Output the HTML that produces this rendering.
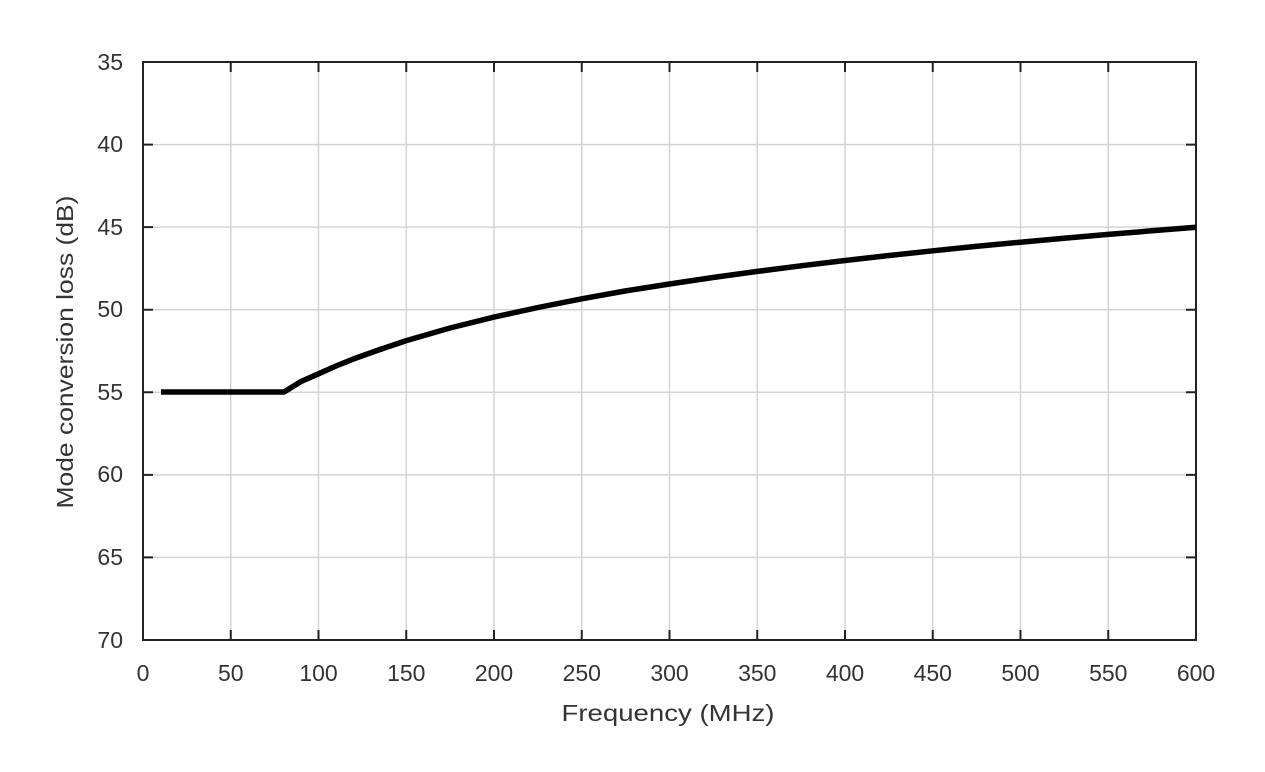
<!DOCTYPE html>
<html><head><meta charset="utf-8"><style>body{margin:0;background:#fff}</style></head><body>
<svg width="1265" height="767" xmlns="http://www.w3.org/2000/svg" font-family="Liberation Sans, sans-serif" fill="#333">
<g stroke="#d4d4d4" stroke-width="1.5">
<line x1="230.75" y1="62" x2="230.75" y2="640"/><line x1="318.5" y1="62" x2="318.5" y2="640"/><line x1="406.25" y1="62" x2="406.25" y2="640"/><line x1="494" y1="62" x2="494" y2="640"/><line x1="581.75" y1="62" x2="581.75" y2="640"/><line x1="669.5" y1="62" x2="669.5" y2="640"/><line x1="757.25" y1="62" x2="757.25" y2="640"/><line x1="845" y1="62" x2="845" y2="640"/><line x1="932.75" y1="62" x2="932.75" y2="640"/><line x1="1020.5" y1="62" x2="1020.5" y2="640"/><line x1="1108.25" y1="62" x2="1108.25" y2="640"/>
<line x1="143" y1="144.6" x2="1196" y2="144.6"/><line x1="143" y1="227.1" x2="1196" y2="227.1"/><line x1="143" y1="309.7" x2="1196" y2="309.7"/><line x1="143" y1="392.3" x2="1196" y2="392.3"/><line x1="143" y1="474.9" x2="1196" y2="474.9"/><line x1="143" y1="557.4" x2="1196" y2="557.4"/>
</g>
<g stroke="#222" stroke-width="2">
<path d="M230.75,62v10M318.5,62v10M406.25,62v10M494,62v10M581.75,62v10M669.5,62v10M757.25,62v10M845,62v10M932.75,62v10M1020.5,62v10M1108.25,62v10"/>
<path d="M230.75,640v-10M318.5,640v-10M406.25,640v-10M494,640v-10M581.75,640v-10M669.5,640v-10M757.25,640v-10M845,640v-10M932.75,640v-10M1020.5,640v-10M1108.25,640v-10"/>
<path d="M143,144.6h10M143,227.1h10M143,309.7h10M143,392.3h10M143,474.9h10M143,557.4h10"/>
<path d="M1196,144.6h-10M1196,227.1h-10M1196,309.7h-10M1196,392.3h-10M1196,474.9h-10M1196,557.4h-10"/>
</g>
<rect x="143" y="62" width="1053" height="578" fill="none" stroke="#222" stroke-width="2"/>
<g font-size="23" text-anchor="end">
<text x="123" y="70">35</text><text x="123" y="152">40</text><text x="123" y="235">45</text><text x="123" y="317">50</text><text x="123" y="400">55</text><text x="123" y="482">60</text><text x="123" y="565">65</text><text x="123" y="648">70</text>
</g>
<g font-size="23" text-anchor="middle">
<text x="143" y="681">0</text><text x="230.75" y="681">50</text><text x="318.5" y="681">100</text><text x="406.25" y="681">150</text><text x="494" y="681">200</text><text x="581.75" y="681">250</text><text x="669.5" y="681">300</text><text x="757.25" y="681">350</text><text x="845" y="681">400</text><text x="932.75" y="681">450</text><text x="1020.5" y="681">500</text><text x="1108.25" y="681">550</text><text x="1196" y="681">600</text>
<text x="668" y="721" textLength="213" lengthAdjust="spacingAndGlyphs">Frequency (MHz)</text>
<text transform="translate(73,352) rotate(-90)" textLength="313" lengthAdjust="spacingAndGlyphs">Mode conversion loss (dB)</text>
</g>
<polyline fill="none" stroke="#000" stroke-width="5.5" stroke-linejoin="round" points="161,392 284,392 301,381.5 318.5,373.8 336,366 353.6,358.9 380,349.5 406.3,340.6 450,328 494,317.1 538,307.5 581.8,298.8 625,291 669.5,284 713,277.5 757.3,271.4 801,265.8 845,260.5 889,255.5 932.8,250.8 976,246.4 1020.5,242.2 1064,238.2 1108.3,234.4 1152,230.8 1196,227.3"/>
</svg>
</body></html>
